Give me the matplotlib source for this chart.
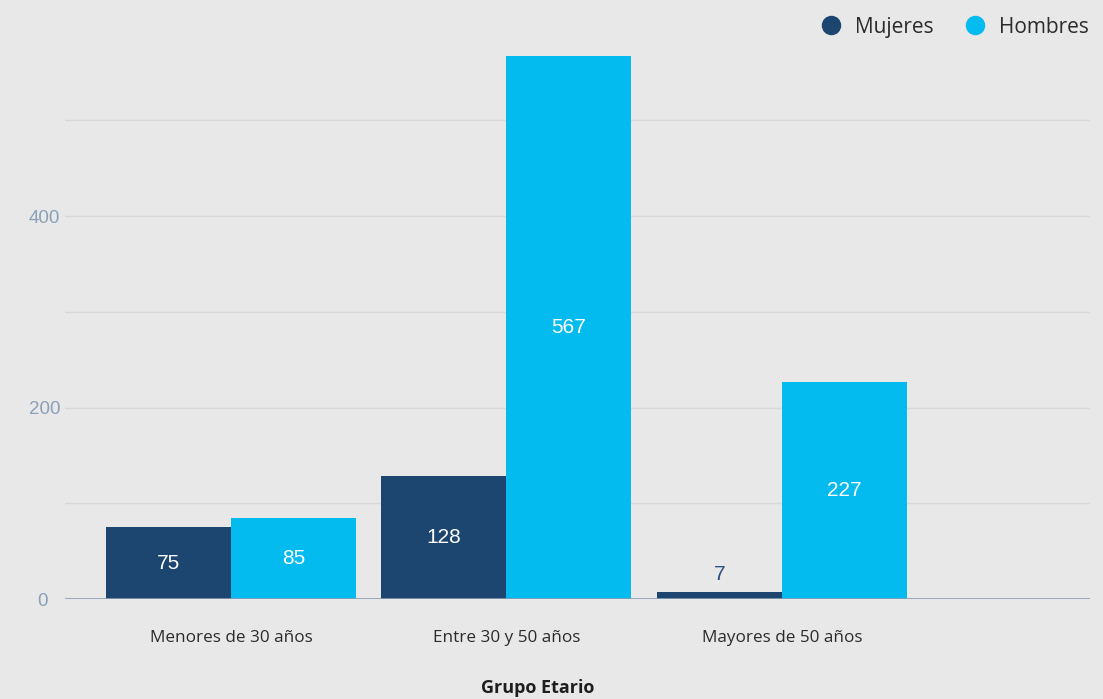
import matplotlib
matplotlib.use("Agg")
import matplotlib.pyplot as plt
from matplotlib.lines import Line2D
from matplotlib.transforms import ScaledTranslation
import numpy as np

# ── Data ──────────────────────────────────────────────────────────────────────
categories = ["Menores de 30 años", "Entre 30 y 50 años", "Mayores de 50 años"]
mujeres    = [75, 128, 7]
hombres    = [85, 567, 227]
y_ticks    = [0, 200, 400]

# ── Colours ───────────────────────────────────────────────────────────────────
C_BG      = "#e8e8e8"
C_MUJERES = "#1c4570"
C_HOMBRES = "#03bbee"
C_GRID    = "#d8d8d8"
C_AXIS    = "#8a9bb0"
C_TICK    = "#8aa0b8"
C_TEXT    = "#2b2b2b"

LABEL_FONT = "Open Sans"
NUM_FONT   = "Liberation Sans"

fig = plt.figure(figsize=(11.03, 6.99), dpi=100)
fig.patch.set_facecolor(C_BG)
ax = fig.add_axes([65 / 1103, 1 - 599 / 699, 1025 / 1103, 559 / 699])
ax.set_facecolor(C_BG)

x = np.arange(len(categories))
w = 0.4537
b1 = ax.bar(x - w / 2, mujeres, w, color=C_MUJERES, zorder=3)
b2 = ax.bar(x + w / 2, hombres, w, color=C_HOMBRES, zorder=3)

ax.set_xlim(-0.6025, 3.118)
ax.set_ylim(0, 584)

# gridlines every 100, labels every 200
for g in range(100, 600, 100):
    ax.axhline(g, color=C_GRID, lw=1, zorder=1)
ax.axhline(0, color=C_AXIS, lw=1.2, zorder=4)

for s in ax.spines.values():
    s.set_visible(False)

ax.set_yticks(y_ticks)
ax.set_yticklabels([str(v) for v in y_ticks], fontsize=13.5, color=C_TICK,
                   family=NUM_FONT)
ax.tick_params(axis="y", length=0, pad=3.5)
# the zero label sits a bit further left in the original
zero = ax.get_yticklabels()[0]
zero.set_transform(zero.get_transform() + ScaledTranslation(-0.12, 0, fig.dpi_scale_trans))

ax.set_xticks(x)
ax.set_xticklabels(categories, fontsize=12.3, color=C_TEXT, family=LABEL_FONT)
ax.tick_params(axis="x", length=0, pad=22)

# value labels
for bars, vals in ((b1, mujeres), (b2, hombres)):
    for r, v in zip(bars, vals):
        cx = r.get_x() + r.get_width() / 2
        if v > 30:
            ax.text(cx, v / 2, str(v), ha="center", va="center", fontsize=15,
                    color="white", family=NUM_FONT, zorder=5)
        else:
            ax.text(cx, v + 9, str(v), ha="center", va="bottom", fontsize=15,
                    color="#2a4f80", family=NUM_FONT, zorder=5)

fig.text(538 / 1103, 1 - 688 / 699, "Grupo Etario", ha="center", va="center",
         fontsize=13, fontweight="bold", color="#1e1e1e", family=LABEL_FONT)

handles = [
    Line2D([], [], marker="o", ls="none", ms=13, color=C_MUJERES, label="Mujeres"),
    Line2D([], [], marker="o", ls="none", ms=13, color=C_HOMBRES, label="Hombres"),
]
fig.legend(handles=handles, loc="upper right", bbox_to_anchor=(1.004, 1.003),
           ncol=2, frameon=False, handletextpad=0.15, columnspacing=1.0,
           prop={"family": LABEL_FONT, "size": 15}, labelcolor=C_TEXT)

fig.savefig("out.png", dpi=100, facecolor=C_BG)
